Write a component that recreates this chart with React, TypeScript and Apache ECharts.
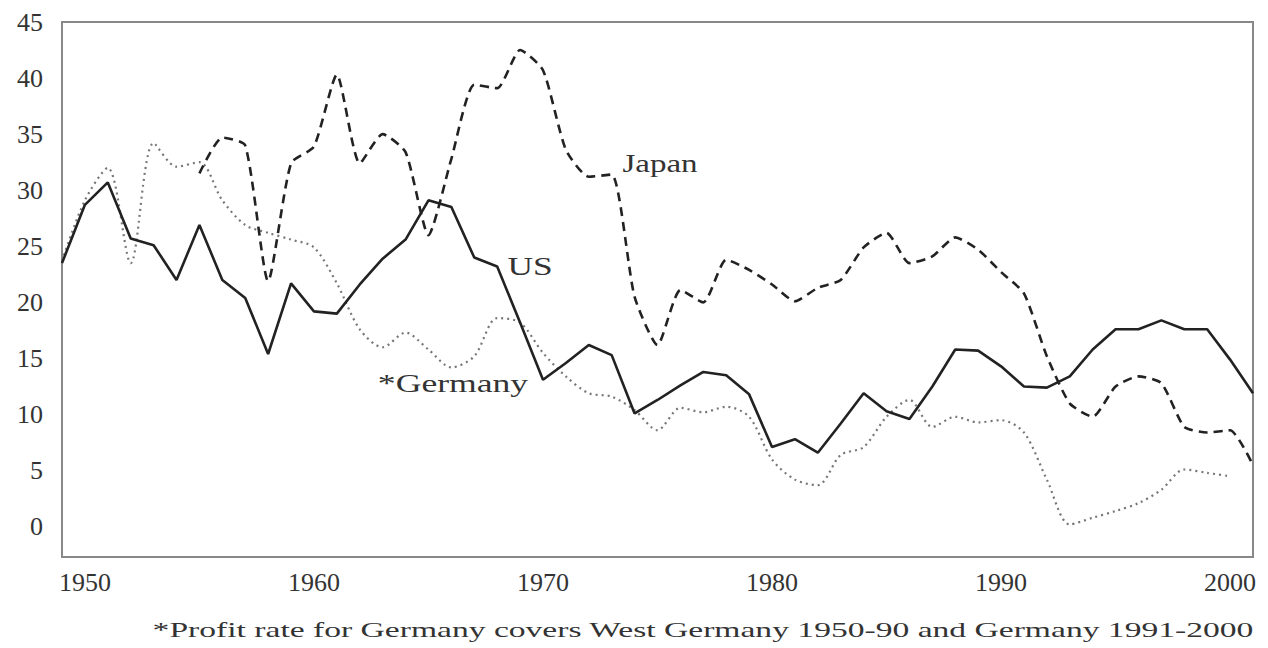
import React, { useEffect, useRef } from "react";
import * as echarts from "echarts";

const years: number[] = [];
for (let y = 1949; y <= 2001; y++) years.push(y);

const usValues = [
  23.5, 28.7, 30.7, 25.7, 25.1, 22.0, 26.9, 22.0, 20.4, 15.4,
  21.7, 19.2, 19.0, 21.6, 23.9, 25.6, 29.1, 28.5, 24.0, 23.2,
  18.2, 13.1, 14.6, 16.2, 15.3, 10.1, 11.3, 12.6, 13.8, 13.5,
  11.8, 7.1, 7.8, 6.6, 9.2, 11.9, 10.3, 9.6, 12.5, 15.8,
  15.7, 14.3, 12.5, 12.4, 13.4, 15.8, 17.6, 17.6, 18.4, 17.6,
  17.6, 14.9, 11.9,
];

const japanYears = [
  1955, 1956, 1957, 1958, 1959, 1960, 1961, 1962, 1963, 1964,
  1965, 1966, 1967, 1968, 1969, 1970, 1971, 1972, 1973, 1974,
  1975, 1976, 1977, 1978, 1979, 1980, 1981, 1982, 1983, 1984,
  1985, 1986, 1987, 1988, 1989, 1990, 1991, 1992, 1993, 1994,
  1995, 1996, 1997, 1998, 1999, 2000, 2001,
];
const japanValues = [
  31.5, 34.7, 34.0, 21.9, 32.4, 33.9, 40.3, 32.4, 35.0, 33.4,
  26.0, 32.8, 39.4, 39.1, 42.5, 40.7, 33.6, 31.2, 31.4, 20.5,
  16.2, 21.1, 20.0, 23.8, 22.9, 21.6, 20.1, 21.3, 22.0, 24.9,
  26.2, 23.5, 24.1, 25.8, 24.7, 22.7, 20.8, 15.2, 11.0, 9.8,
  12.5, 13.4, 12.8, 8.9, 8.4, 8.6, 5.5,
];

const germanyYears: number[] = [];
for (let y = 1949; y <= 2000; y++) germanyYears.push(y);
const germanyValues = [
  23.7, 29.1, 32.0, 23.5, 34.2, 32.1, 32.5, 29.1, 26.9, 26.2,
  25.6, 24.9, 21.7, 17.6, 16.0, 17.3, 15.8, 14.2, 15.2, 18.6,
  18.2, 15.5, 13.4, 11.9, 11.6, 10.4, 8.6, 10.6, 10.2, 10.7,
  9.8, 6.0, 4.2, 3.7, 6.4, 7.1, 9.8, 11.3, 8.9, 9.8,
  9.3, 9.5, 8.4, 4.2, 0.2, 0.8, 1.4, 2.1, 3.3, 5.1,
  4.8, 4.5,
];

const xTickLabels = [1950, 1960, 1970, 1980, 1990, 2000];
const yTickLabels = [0, 5, 10, 15, 20, 25, 30, 35, 40, 45];

const seriesLabels = ["US", "Japan", "*Germany"];
const footnote =
  "*Profit rate for Germany covers West Germany 1950-90 and Germany 1991-2000";

const FONT = "'Liberation Serif', 'Times New Roman', serif";

export default function App() {
  const ref = useRef<HTMLDivElement>(null);

  useEffect(() => {
    if (!ref.current) return;
    const chart = echarts.init(ref.current, undefined, { renderer: "svg" });

    const textEl = (
      text: string,
      x: number,
      y: number,
      size: number,
      sx: number
    ) => ({
      type: "text",
      x,
      y,
      scaleX: sx,
      silent: true,
      style: {
        text,
        x: 0,
        y: 0,
        fill: "#333",
        font: `${size}px ${FONT}`,
        textAlign: "center",
        textVerticalAlign: "middle",
      },
    });

    chart.setOption({
      animation: false,
      backgroundColor: "#fff",
      grid: {
        left: 62,
        right: 15,
        top: 22,
        bottom: 91,
        show: true,
        borderColor: "#888",
        borderWidth: 2,
        containLabel: false,
      },
      xAxis: {
        type: "value",
        min: 1949,
        max: 2001,
        splitLine: { show: false },
        axisTick: { show: false },
        axisLine: {
          show: true,
          onZero: false,
          lineStyle: { color: "#888", width: 2 },
        },
        axisLabel: {
          customValues: xTickLabels,
          margin: 12,
          color: "#333",
          fontFamily: FONT,
          fontSize: 26,
          formatter: (v: number) => String(v),
        },
      },
      yAxis: {
        type: "value",
        min: -2.7,
        max: 45,
        splitLine: { show: false },
        axisTick: { show: false },
        axisLine: {
          show: true,
          onZero: false,
          lineStyle: { color: "#888", width: 2 },
        },
        axisLabel: {
          customValues: yTickLabels,
          margin: 19,
          color: "#333",
          fontFamily: FONT,
          fontSize: 26,
          formatter: (v: number) => String(v),
        },
      },
      series: [
        {
          name: "US",
          type: "line",
          data: years.map((y, i) => [y, usValues[i]]),
          showSymbol: false,
          lineStyle: { color: "#222", width: 2.6, type: "solid" },
          z: 3,
        },
        {
          name: "Japan",
          type: "line",
          data: japanYears.map((y, i) => [y, japanValues[i]]),
          showSymbol: false,
          smooth: 0.2,
          lineStyle: { color: "#222", width: 2.6, type: [9, 6] },
          z: 2,
        },
        {
          name: "Germany",
          type: "line",
          data: germanyYears.map((y, i) => [y, germanyValues[i]]),
          showSymbol: false,
          smooth: 0.3,
          lineStyle: { color: "#777", width: 2.2, type: [2, 4] },
          z: 1,
        },
      ],
      graphic: [
        textEl(seriesLabels[0], 530, 266, 26, 1.36),
        textEl(seriesLabels[1], 660, 163, 26, 1.27),
        textEl(seriesLabels[2], 453, 383, 26, 1.37),
        textEl(footnote, 703, 630, 21, 1.6),
      ],
    });

    return () => chart.dispose();
  }, []);

  return (
    <div
      ref={ref}
      style={{ position: "fixed", left: 0, top: 0, width: 1268, height: 648 }}
    />
  );
}
